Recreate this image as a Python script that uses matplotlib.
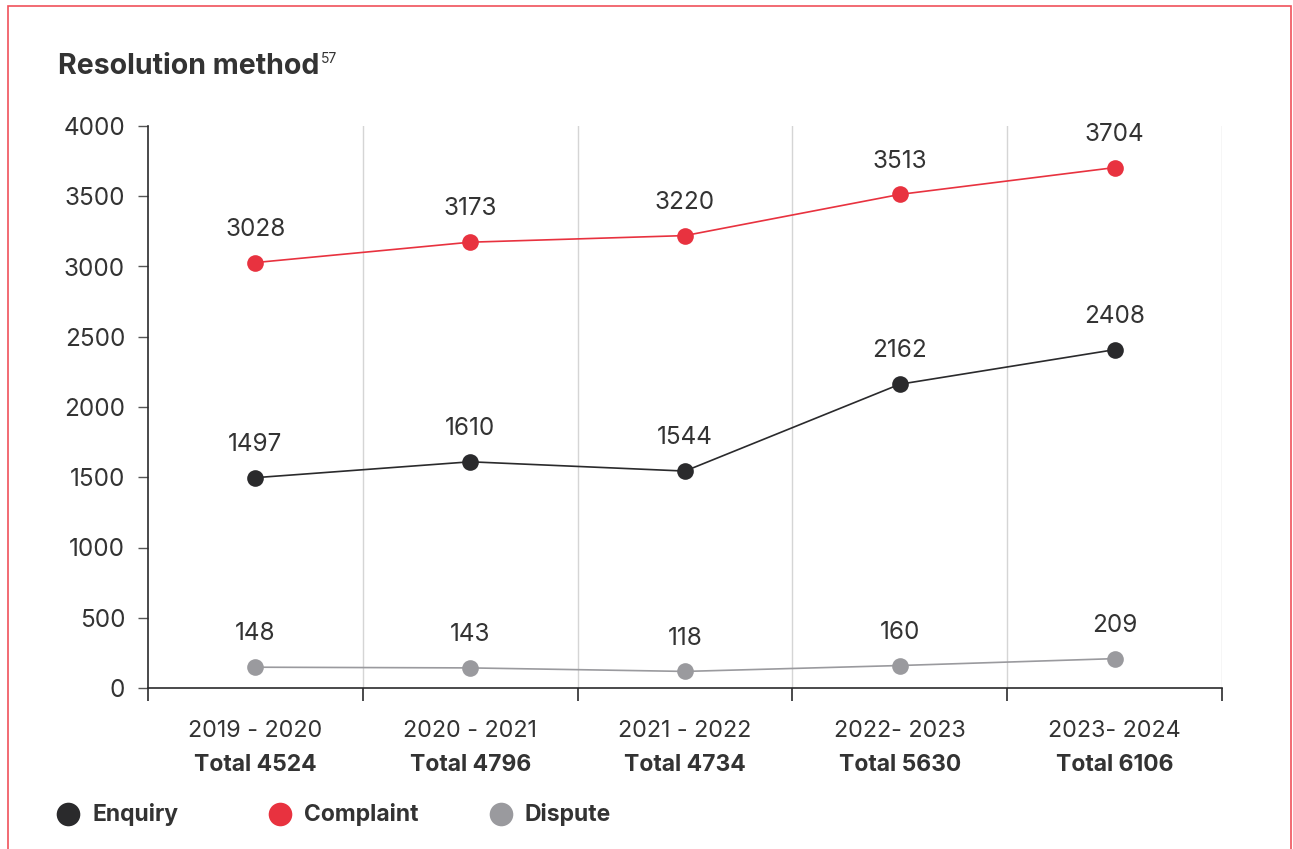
import matplotlib
matplotlib.use('Agg')
import matplotlib.pyplot as plt
from matplotlib.patches import Rectangle
from matplotlib.lines import Line2D
import matplotlib.transforms as mtransforms

plt.rcParams['font.family'] = ['Inter', 'DejaVu Sans']

periods = ['2019 - 2020', '2020 - 2021', '2021 - 2022', '2022- 2023', '2023- 2024']
totals = ['Total 4524', 'Total 4796', 'Total 4734', 'Total 5630', 'Total 6106']
enquiry = [1497, 1610, 1544, 2162, 2408]
complaint = [3028, 3173, 3220, 3513, 3704]
dispute = [148, 143, 118, 160, 209]

RED = '#E8323F'
DARK = '#2A2A2C'
GREY = '#9A9A9E'
TXT = '#333333'

W, H = 1293, 849
fig = plt.figure(figsize=(W / 100, H / 100), dpi=100)
ax = fig.add_axes([148 / W, 1 - 688 / H, (1222 - 148) / W, (688 - 126) / H])

xs = [i + 0.5 for i in range(len(periods))]

series = [(complaint, RED), (enquiry, DARK), (dispute, GREY)]
for vals, col in series:
    ax.plot(xs, vals, color=col, lw=1.2, marker='o', ms=12, mec='none', zorder=3)
    for x, v in zip(xs, vals):
        ax.annotate(str(v), (x, v), xytext=(0, 24), textcoords='offset points',
                    ha='center', va='center', fontsize=17.5, color=TXT)

ax.set_xlim(0, len(periods))
ax.set_ylim(0, 4000)
ax.set_yticks(range(0, 4001, 500))
ax.set_xticks(range(0, len(periods) + 1))
ax.set_xticklabels([])
for g in range(1, len(periods) + 1):
    ax.axvline(g, color='#D5D5D5', lw=1, zorder=1)

for s in ['top', 'right']:
    ax.spines[s].set_visible(False)
for s in ['left', 'bottom']:
    ax.spines[s].set_color(DARK)
    ax.spines[s].set_linewidth(1.2)
ax.tick_params(axis='x', direction='out', length=9, width=1.2, color=DARK)
ax.tick_params(axis='y', length=7.5, width=1, color='#555555', labelsize=17.5,
               labelcolor=TXT, pad=9)

trans = mtransforms.blended_transform_factory(ax.transData, fig.transFigure)
for x, p, t in zip(xs, periods, totals):
    ax.text(x, 1 - 731 / H, p, transform=trans, ha='center', va='center',
            fontsize=16.8, color=TXT)
    ax.text(x, 1 - 765 / H, t, transform=trans, ha='center', va='center',
            fontsize=16.5, fontweight='bold', color=TXT)

# title with superscript footnote
title = fig.text(58 / W, 1 - 66 / H, 'Resolution method', fontsize=20.5,
                 fontweight='bold', color=TXT, ha='left', va='center')
r = fig.canvas.get_renderer()
bb = title.get_window_extent(renderer=r)
fig.text(bb.x1 / W + 1 / W, 1 - 59 / H, '57', fontsize=10, color=TXT,
         ha='left', va='center')

# legend
legend_items = [('Enquiry', DARK, 68), ('Complaint', RED, 280), ('Dispute', GREY, 501)]
for name, col, px in legend_items:
    fig.add_artist(Line2D([px / W], [1 - 814 / H], marker='o', ms=17, color=col,
                          mec='none', ls='none', transform=fig.transFigure))
    fig.text((px + 24) / W, 1 - 814 / H, name, fontsize=16.5, fontweight='bold',
             color=TXT, ha='left', va='center')

# page border
fig.add_artist(Rectangle((7.5 / W, -0.1), (1290.5 - 7.5) / W, 1.1 - 6 / H,
                         transform=fig.transFigure, fill=False,
                         edgecolor='#F0525B', lw=1.2))

fig.savefig('out.png', dpi=100)
